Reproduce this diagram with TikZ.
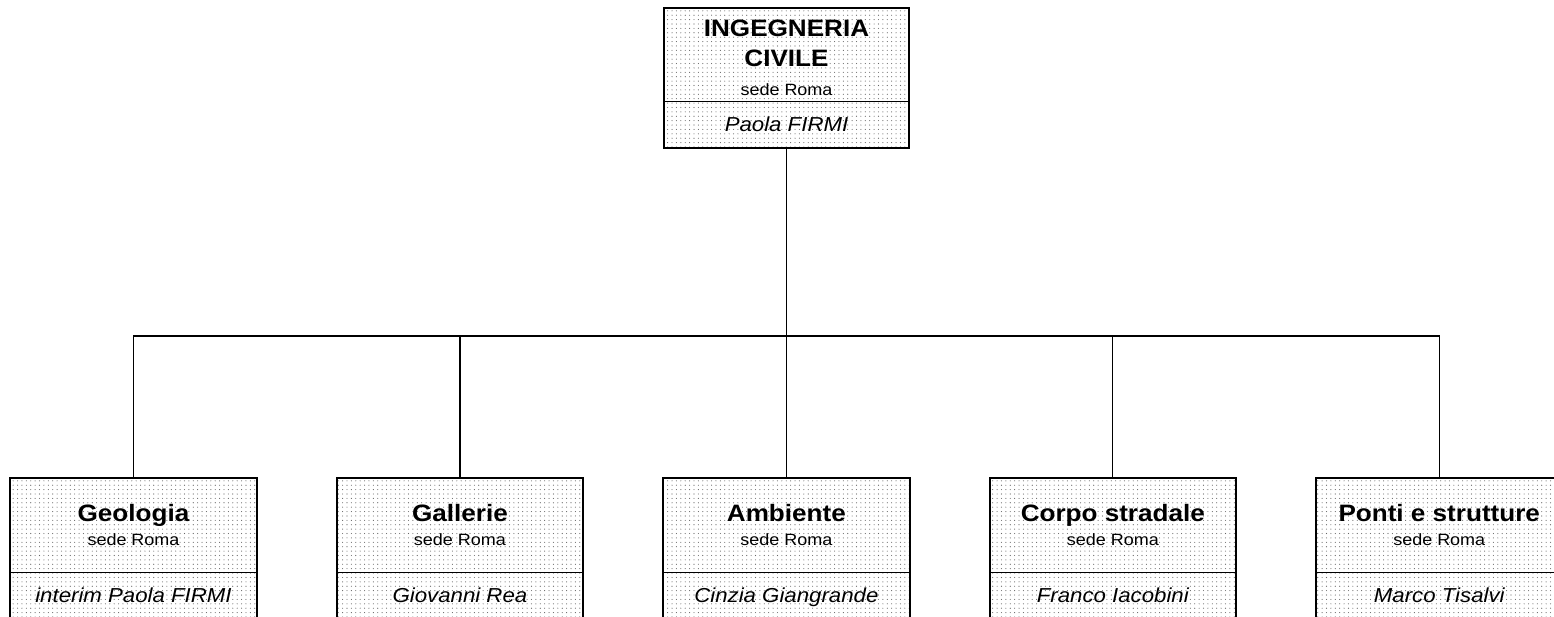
\documentclass[tikz,border=0pt]{standalone}
\usepackage{fontspec}
\setmainfont{Liberation Sans}[FakeStretch=1.1]
\usetikzlibrary{positioning,patterns.meta}

\newcommand{\sedeRoma}{{\normalfont\fontsize{9.3}{11}\selectfont sede Roma}}

\begin{document}
\begin{tikzpicture}[
        x=0.02cm, y=-0.02cm,
        node distance=1.6cm,
        unita/.style={
            rectangle,
            draw=black,
            line width=0.5pt,
            pattern={Dots[distance=2.5pt,radius=0.32pt]},
            pattern color=black!60,
            minimum width=4.93cm,
            minimum height=1.88cm,
            inner sep=0pt,
            outer sep=0pt,
            align=center,
            font=\bfseries\fontsize{13.5}{14.2}\selectfont
        },
        responsabile/.style={
            unita,
            minimum height=0.94cm,
            font=\itshape\fontsize{11.5}{13}\selectfont,
            text height=8.2pt,
            text depth=0pt
        },
        cornice/.style={draw, line width=1.1pt},
        linea/.style={line width=0.7pt}
    ]

    \useasboundingbox (0,0) rectangle (1554,617);
    \clip (0,0) rectangle (1554,617);
    \fill[white] (0,0) rectangle (1554,617);

    % direzione
    \node[unita, minimum width=4.9cm, minimum height=1.86cm, anchor=north,
        font=\bfseries\fontsize{13.5}{16}\selectfont] (civile) at (786.5,8)
        {\rule{0pt}{13.3pt}INGEGNERIA\\[1pt]CIVILE\\[0.5pt]\sedeRoma};
    \node[responsabile, minimum width=4.9cm, below=0pt of civile] (resp-civile) {Paola FIRMI};

    % settori
    \node[unita, anchor=north] (geologia) at (133.5,478) {Geologia\\\sedeRoma};
    \node[unita, right=of geologia] (gallerie) {Gallerie\\\sedeRoma};
    \node[unita, right=of gallerie] (ambiente) {Ambiente\\\sedeRoma};
    \node[unita, right=of ambiente] (corpo) {Corpo stradale\\\sedeRoma};
    \node[unita, right=of corpo] (ponti) {Ponti e strutture\\\sedeRoma};

    \node[responsabile, below=0pt of geologia] (resp-geologia) {interim Paola FIRMI};
    \node[responsabile, below=0pt of gallerie] (resp-gallerie) {Giovanni Rea};
    \node[responsabile, below=0pt of ambiente] (resp-ambiente) {Cinzia Giangrande};
    \node[responsabile, below=0pt of corpo] (resp-corpo) {Franco Iacobini};
    \node[responsabile, below=0pt of ponti] (resp-ponti) {Marco Tisalvi};

    \foreach \u in {civile,geologia,gallerie,ambiente,corpo,ponti}
        \draw[cornice] (\u.north west) rectangle (resp-\u.south east);

    \coordinate (bus) at (786.5,336);
    \draw[linea] (resp-civile.south) -- (bus);
    \foreach \u in {geologia,gallerie,ambiente,corpo,ponti}
        \draw[linea] (\u.north) |- (bus);

    \end{tikzpicture}
\end{document}
